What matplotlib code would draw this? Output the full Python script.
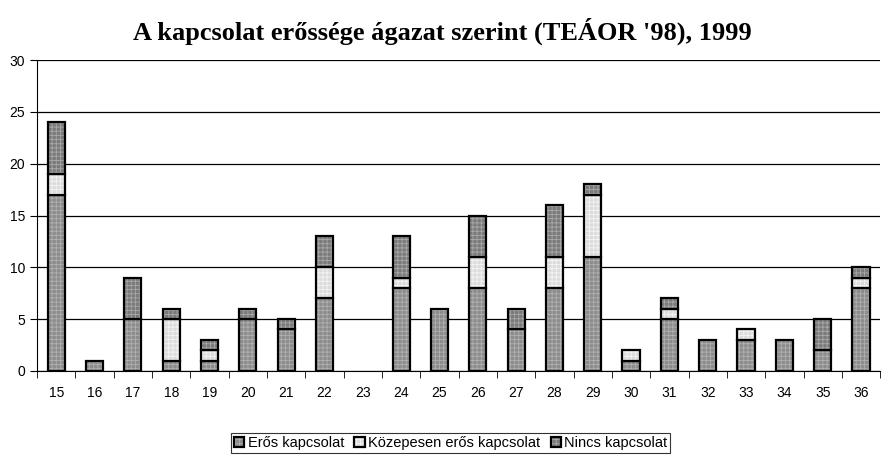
import numpy as np
import matplotlib.pyplot as plt
from matplotlib.colors import to_rgba

categories = ["15", "16", "17", "18", "19", "20", "21", "22", "23", "24", "25",
              "26", "27", "28", "29", "30", "31", "32", "33", "34", "35", "36"]
eros     = [17, 1, 5, 1, 1, 5, 4, 7, 0, 8, 6, 8, 4, 8, 11, 1, 5, 3, 3, 3, 2, 8]
kozepes  = [2, 0, 0, 4, 1, 0, 0, 3, 0, 1, 0, 3, 0, 3, 6, 1, 1, 0, 1, 0, 0, 1]
nincs    = [5, 0, 4, 1, 1, 1, 1, 3, 0, 4, 0, 4, 2, 5, 1, 0, 1, 0, 0, 0, 3, 1]
labels = ["Erős kapcsolat", "Közepesen erős kapcsolat", "Nincs kapcsolat"]

plt.rcParams['font.family'] = ['Liberation Sans', 'DejaVu Sans']
plt.rcParams['hatch.linewidth'] = 0.6

fig = plt.figure(figsize=(8.82, 4.63), dpi=100)
ax = fig.add_axes([0.042, 0.199, 0.956, 0.671])

x = np.arange(len(categories))
w = 0.45
e = np.array(eros); k = np.array(kozepes); n = np.array(nincs)
styles = [(e, np.zeros_like(e), "#8c8c8c", "#b0b0b0"),
          (k, e, "#dcdcdc", "#f4f4f4"),
          (n, e + k, "#7a7a7a", "#a8a8a8")]
handles = []
for (vals, bottom, fc, hc), lab in zip(styles, labels):
    m = vals > 0
    bars = ax.bar(x[m], vals[m], w, bottom=bottom[m], color=fc, edgecolor="black",
                  linewidth=1.6, hatch="++++", label=lab, zorder=3)
    for p in bars:
        p._hatch_color = to_rgba(hc)
    handles.append(bars)

ax.set_xlim(-0.5, len(categories) - 0.5)
ax.set_ylim(0, 30)
ax.set_yticks(range(0, 31, 5))
ax.yaxis.grid(True, color="black", linewidth=0.9, zorder=0)
ax.set_axisbelow(True)
ax.set_xticks(x)
ax.set_xticklabels(categories, fontsize=10)
ax.set_xticks(np.arange(-0.5, len(categories)), minor=True)
ax.tick_params(axis="x", which="major", length=0, pad=11)
ax.tick_params(axis="x", which="minor", length=5, direction="out", color="black")
ax.tick_params(axis="y", labelsize=10, length=5, direction="out")
for s in ("top", "right"):
    ax.spines[s].set_visible(False)
ax.spines["left"].set_color("black")
ax.spines["bottom"].set_color("black")

fig.suptitle("A kapcsolat erőssége ágazat szerint (TEÁOR '98), 1999",
             x=0.501, y=0.962, fontsize=19, fontweight="bold",
             family=["Liberation Serif", "DejaVu Serif"])

leg = fig.legend(handles=handles, labels=labels, loc="center",
                 bbox_to_anchor=(0.511, 0.043), ncol=3, fontsize=10.5,
                 frameon=True, fancybox=False, edgecolor="black",
                 handlelength=0.7, handleheight=0.7, handletextpad=0.25,
                 columnspacing=0.7, borderpad=0.2, borderaxespad=0)
leg.get_frame().set_linewidth(0.8)

fig.savefig("out.png", dpi=100)
